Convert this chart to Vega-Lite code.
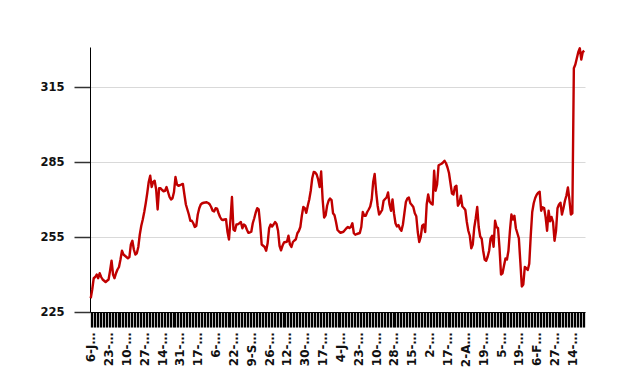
{
"$schema": "https://vega.github.io/schema/vega-lite/v6.json",
"width": 495, "height": 265,
"autosize": {"type": "none"},
"padding": {"left": 90, "top": 47, "right": 33, "bottom": 72},
"config": {"view": {"stroke": null}, "font": "DejaVu Sans"},
"datasets": {"prices": [
{"date":"6-Jan-14","price":230.5},{"date":"7-Jan-14","price":234},{"date":"8-Jan-14","price":238.5},{"date":"9-Jan-14","price":239},{"date":"10-Jan-14","price":240},{"date":"11-Jan-14","price":238.5},{"date":"12-Jan-14","price":240.5},{"date":"13-Jan-14","price":239},{"date":"14-Jan-14","price":238},{"date":"15-Jan-14","price":237.5},{"date":"16-Jan-14","price":237},{"date":"17-Jan-14","price":237.5},
{"date":"23-Jan-14","price":238},{"date":"24-Jan-14","price":241.5},{"date":"25-Jan-14","price":245.5},{"date":"26-Jan-14","price":240},{"date":"27-Jan-14","price":238.5},{"date":"28-Jan-14","price":240.5},{"date":"29-Jan-14","price":242},{"date":"30-Jan-14","price":243},{"date":"31-Jan-14","price":246},{"date":"1-Feb-14","price":249.5},{"date":"2-Feb-14","price":248},{"date":"3-Feb-14","price":247.5},
{"date":"10-Feb-14","price":247},{"date":"11-Feb-14","price":246.5},{"date":"12-Feb-14","price":247},{"date":"13-Feb-14","price":252},{"date":"14-Feb-14","price":253.5},{"date":"15-Feb-14","price":250},{"date":"16-Feb-14","price":248},{"date":"17-Feb-14","price":248.5},{"date":"18-Feb-14","price":251},{"date":"19-Feb-14","price":256},{"date":"20-Feb-14","price":259.5},{"date":"21-Feb-14","price":262},
{"date":"27-Feb-14","price":265},{"date":"28-Feb-14","price":268.5},{"date":"1-Mar-14","price":272.5},{"date":"2-Mar-14","price":277},{"date":"3-Mar-14","price":279.5},{"date":"4-Mar-14","price":275},{"date":"5-Mar-14","price":277},{"date":"6-Mar-14","price":277.5},{"date":"7-Mar-14","price":274},{"date":"8-Mar-14","price":266},{"date":"9-Mar-14","price":274.5},{"date":"10-Mar-14","price":274.5},
{"date":"14-Mar-14","price":273.8},{"date":"15-Mar-14","price":273.3},{"date":"16-Mar-14","price":273.5},{"date":"17-Mar-14","price":275},{"date":"18-Mar-14","price":273},{"date":"19-Mar-14","price":271},{"date":"20-Mar-14","price":270},{"date":"21-Mar-14","price":270.5},{"date":"22-Mar-14","price":273},{"date":"23-Mar-14","price":279},{"date":"24-Mar-14","price":276},{"date":"25-Mar-14","price":275.5},
{"date":"31-Mar-14","price":275.7},{"date":"1-Apr-14","price":276},{"date":"2-Apr-14","price":276.2},{"date":"3-Apr-14","price":272},{"date":"4-Apr-14","price":268},{"date":"5-Apr-14","price":266},{"date":"6-Apr-14","price":264},{"date":"7-Apr-14","price":261.5},{"date":"8-Apr-14","price":261.5},{"date":"9-Apr-14","price":260.5},{"date":"10-Apr-14","price":259},{"date":"11-Apr-14","price":259.5},
{"date":"17-Apr-14","price":264},{"date":"18-Apr-14","price":266.5},{"date":"19-Apr-14","price":268},{"date":"20-Apr-14","price":268.5},{"date":"21-Apr-14","price":268.7},{"date":"22-Apr-14","price":268.8},{"date":"23-Apr-14","price":268.9},{"date":"24-Apr-14","price":268.6},{"date":"25-Apr-14","price":268.1},{"date":"26-Apr-14","price":267},{"date":"27-Apr-14","price":265.5},{"date":"28-Apr-14","price":265.2},
{"date":"6-May-14","price":266.5},{"date":"7-May-14","price":266.3},{"date":"8-May-14","price":264.5},{"date":"9-May-14","price":263},{"date":"10-May-14","price":262},{"date":"11-May-14","price":261.8},{"date":"12-May-14","price":262},{"date":"13-May-14","price":262.1},{"date":"14-May-14","price":257},{"date":"15-May-14","price":254},{"date":"16-May-14","price":262},{"date":"17-May-14","price":271},
{"date":"22-May-14","price":258},{"date":"23-May-14","price":257.5},{"date":"24-May-14","price":260},{"date":"25-May-14","price":260.1},{"date":"26-May-14","price":260.5},{"date":"27-May-14","price":261},{"date":"28-May-14","price":258.5},{"date":"29-May-14","price":260},{"date":"30-May-14","price":259.5},{"date":"31-May-14","price":258},{"date":"1-Jun-14","price":256.7},{"date":"2-Jun-14","price":256.8},
{"date":"9-Sep-14","price":257.1},{"date":"10-Sep-14","price":260.5},{"date":"11-Sep-14","price":262.5},{"date":"12-Sep-14","price":264.8},{"date":"13-Sep-14","price":266.5},{"date":"14-Sep-14","price":266},{"date":"15-Sep-14","price":260},{"date":"16-Sep-14","price":252},{"date":"17-Sep-14","price":251.5},{"date":"18-Sep-14","price":251},{"date":"19-Sep-14","price":249.5},{"date":"20-Sep-14","price":252.5},
{"date":"26-Sep-14","price":258.5},{"date":"27-Sep-14","price":260},{"date":"28-Sep-14","price":259.2},{"date":"29-Sep-14","price":260},{"date":"30-Sep-14","price":261},{"date":"1-Oct-14","price":260.2},{"date":"2-Oct-14","price":257.5},{"date":"3-Oct-14","price":251.5},{"date":"4-Oct-14","price":249.7},{"date":"5-Oct-14","price":251.5},{"date":"6-Oct-14","price":252.8},{"date":"7-Oct-14","price":253},
{"date":"12-Oct-14","price":253.1},{"date":"13-Oct-14","price":255.5},{"date":"14-Oct-14","price":252},{"date":"15-Oct-14","price":251},{"date":"16-Oct-14","price":253},{"date":"17-Oct-14","price":253.6},{"date":"18-Oct-14","price":254.1},{"date":"19-Oct-14","price":256.5},{"date":"20-Oct-14","price":257.4},{"date":"21-Oct-14","price":259},{"date":"22-Oct-14","price":263.5},{"date":"23-Oct-14","price":267},
{"date":"30-Oct-14","price":266.5},{"date":"31-Oct-14","price":264.7},{"date":"1-Nov-14","price":267.5},{"date":"2-Nov-14","price":270},{"date":"3-Nov-14","price":273.5},{"date":"4-Nov-14","price":278.5},{"date":"5-Nov-14","price":281},{"date":"6-Nov-14","price":280.8},{"date":"7-Nov-14","price":280},{"date":"8-Nov-14","price":278},{"date":"9-Nov-14","price":275},{"date":"10-Nov-14","price":281.2},
{"date":"17-Nov-14","price":270},{"date":"18-Nov-14","price":262.8},{"date":"19-Nov-14","price":263.7},{"date":"20-Nov-14","price":267.5},{"date":"21-Nov-14","price":269.5},{"date":"22-Nov-14","price":270.4},{"date":"23-Nov-14","price":269.8},{"date":"24-Nov-14","price":264.5},{"date":"25-Nov-14","price":263.7},{"date":"26-Nov-14","price":261},{"date":"27-Nov-14","price":257.8},{"date":"28-Nov-14","price":257.2},
{"date":"4-Jan-15","price":256.7},{"date":"5-Jan-15","price":256.9},{"date":"6-Jan-15","price":257.1},{"date":"7-Jan-15","price":257.8},{"date":"8-Jan-15","price":258.5},{"date":"9-Jan-15","price":259},{"date":"10-Jan-15","price":258.6},{"date":"11-Jan-15","price":259},{"date":"12-Jan-15","price":260.5},{"date":"13-Jan-15","price":256.5},{"date":"14-Jan-15","price":255.9},{"date":"15-Jan-15","price":256.2},
{"date":"23-Jan-15","price":256.4},{"date":"24-Jan-15","price":256.6},{"date":"25-Jan-15","price":259},{"date":"26-Jan-15","price":265},{"date":"27-Jan-15","price":263.5},{"date":"28-Jan-15","price":263.5},{"date":"29-Jan-15","price":265},{"date":"30-Jan-15","price":266},{"date":"31-Jan-15","price":267.2},{"date":"1-Feb-15","price":270},{"date":"2-Feb-15","price":277},{"date":"3-Feb-15","price":280.2},
{"date":"10-Feb-15","price":273},{"date":"11-Feb-15","price":267.5},{"date":"12-Feb-15","price":264},{"date":"13-Feb-15","price":264.8},{"date":"14-Feb-15","price":265.8},{"date":"15-Feb-15","price":269.5},{"date":"16-Feb-15","price":270.2},{"date":"17-Feb-15","price":270.8},{"date":"18-Feb-15","price":272.8},{"date":"19-Feb-15","price":268},{"date":"20-Feb-15","price":265.5},{"date":"21-Feb-15","price":270},
{"date":"28-Feb-15","price":264.5},{"date":"1-Mar-15","price":260.5},{"date":"2-Mar-15","price":259.2},{"date":"3-Mar-15","price":259.8},{"date":"4-Mar-15","price":258.3},{"date":"5-Mar-15","price":257.5},{"date":"6-Mar-15","price":260},{"date":"7-Mar-15","price":264.5},{"date":"8-Mar-15","price":269},{"date":"9-Mar-15","price":270.4},{"date":"10-Mar-15","price":270.8},{"date":"11-Mar-15","price":268.5},
{"date":"15-Mar-15","price":267.8},{"date":"16-Mar-15","price":267},{"date":"17-Mar-15","price":264.5},{"date":"18-Mar-15","price":263.3},{"date":"19-Mar-15","price":257},{"date":"20-Mar-15","price":253},{"date":"21-Mar-15","price":255},{"date":"22-Mar-15","price":259.5},{"date":"23-Mar-15","price":260},{"date":"24-Mar-15","price":257},{"date":"25-Mar-15","price":268},{"date":"26-Mar-15","price":272},
{"date":"2-May-15","price":269.2},{"date":"3-May-15","price":268.4},{"date":"4-May-15","price":268},{"date":"5-May-15","price":281.5},{"date":"6-May-15","price":273.5},{"date":"7-May-15","price":276},{"date":"8-May-15","price":283.7},{"date":"9-May-15","price":284},{"date":"10-May-15","price":284.3},{"date":"11-May-15","price":284.8},{"date":"12-May-15","price":285.5},{"date":"13-May-15","price":284.5},
{"date":"17-May-15","price":282.8},{"date":"18-May-15","price":280.6},{"date":"19-May-15","price":276.5},{"date":"20-May-15","price":272.4},{"date":"21-May-15","price":272},{"date":"22-May-15","price":275},{"date":"23-May-15","price":275.5},{"date":"24-May-15","price":267.5},{"date":"25-May-15","price":268.5},{"date":"26-May-15","price":271.5},{"date":"27-May-15","price":267.2},{"date":"28-May-15","price":266.6},
{"date":"2-Aug-15","price":265.8},{"date":"3-Aug-15","price":261},{"date":"4-Aug-15","price":257.5},{"date":"5-Aug-15","price":255.5},{"date":"6-Aug-15","price":250.5},{"date":"7-Aug-15","price":252},{"date":"8-Aug-15","price":258.8},{"date":"9-Aug-15","price":262.5},{"date":"10-Aug-15","price":267},{"date":"11-Aug-15","price":259},{"date":"12-Aug-15","price":255.2},{"date":"13-Aug-15","price":254.3},
{"date":"19-Aug-15","price":249.5},{"date":"20-Aug-15","price":246},{"date":"21-Aug-15","price":245.5},{"date":"22-Aug-15","price":247.1},{"date":"23-Aug-15","price":249.5},{"date":"24-Aug-15","price":254.5},{"date":"25-Aug-15","price":255.5},{"date":"26-Aug-15","price":251.1},{"date":"27-Aug-15","price":261.5},{"date":"28-Aug-15","price":259},{"date":"29-Aug-15","price":258.5},{"date":"30-Aug-15","price":250.5},
{"date":"5-Mar-16","price":240},{"date":"6-Mar-16","price":240.5},{"date":"7-Mar-16","price":243.5},{"date":"8-Mar-16","price":246.4},{"date":"9-Mar-16","price":246},{"date":"10-Mar-16","price":249.5},{"date":"11-Mar-16","price":257.5},{"date":"12-Mar-16","price":264},{"date":"13-Mar-16","price":262},{"date":"14-Mar-16","price":263.5},{"date":"15-Mar-16","price":258.5},{"date":"16-Mar-16","price":256.5},
{"date":"19-Mar-16","price":254.5},{"date":"20-Mar-16","price":245},{"date":"21-Mar-16","price":235.2},{"date":"22-Mar-16","price":236},{"date":"23-Mar-16","price":243},{"date":"24-Mar-16","price":242.5},{"date":"25-Mar-16","price":241.8},{"date":"26-Mar-16","price":244.3},{"date":"27-Mar-16","price":255.5},{"date":"28-Mar-16","price":265},{"date":"29-Mar-16","price":268.5},{"date":"30-Mar-16","price":270.6},
{"date":"6-Feb-17","price":271.9},{"date":"7-Feb-17","price":272.7},{"date":"8-Feb-17","price":273.1},{"date":"9-Feb-17","price":265.5},{"date":"10-Feb-17","price":266.9},{"date":"11-Feb-17","price":266.6},{"date":"12-Feb-17","price":263},{"date":"13-Feb-17","price":257.5},{"date":"14-Feb-17","price":265.5},{"date":"15-Feb-17","price":261.3},{"date":"16-Feb-17","price":263},{"date":"17-Feb-17","price":261},
{"date":"27-Feb-17","price":253.5},{"date":"28-Feb-17","price":257.5},{"date":"1-Mar-17","price":266.5},{"date":"2-Mar-17","price":268},{"date":"3-Mar-17","price":268.7},{"date":"4-Mar-17","price":264},{"date":"5-Mar-17","price":266.5},{"date":"6-Mar-17","price":269.5},{"date":"7-Mar-17","price":271.6},{"date":"8-Mar-17","price":274.8},{"date":"9-Mar-17","price":270},{"date":"10-Mar-17","price":264},
{"date":"14-Mar-17","price":264.5},{"date":"15-Mar-17","price":322.5},{"date":"16-Mar-17","price":324},{"date":"17-Mar-17","price":326.5},{"date":"18-Mar-17","price":329},{"date":"19-Mar-17","price":330.5},{"date":"20-Mar-17","price":326},{"date":"21-Mar-17","price":329},{"date":"22-Mar-17","price":329.5}
]},
"data": {"name": "prices"},
"mark": {"type": "line", "color": "#c00000", "strokeWidth": 2.4, "strokeJoin": "round"},
"encoding": {
  "x": {"field": "date", "type": "ordinal", "sort": null,
        "scale": {"type": "point", "padding": 0.5},
        "axis": {"title": null, "labelAngle": -90,
                 "labelExpr": "indexof(pluck(data('prices'), 'date'), datum.value) % 12 === 0 ? datum.label : ''",
                 "labelLimit": 35, "labelFont": "DejaVu Sans", "labelFontWeight": "bold", "labelFontSize": 12,
                 "labelColor": "#111111", "labelPadding": 5, "labelOverlap": false, "labelBound": false,
                 "ticks": true, "tickSize": 15, "tickColor": "#000000", "tickWidth": 1.3,
                 "domainColor": "#000000", "grid": false}},
  "y": {"field": "price", "type": "quantitative",
        "scale": {"domain": [225, 331], "nice": false, "zero": false},
        "axis": {"title": null, "values": [225, 255, 285, 315], "grid": true, "gridColor": "#d9d9d9", "gridWidth": 1.2,
                 "tickSize": 16, "tickColor": "#333333", "tickWidth": 1.5, "domainColor": "#000000",
                 "labelPadding": 10, "labelFont": "DejaVu Sans", "labelFontWeight": "bold", "labelFontSize": 11.5,
                 "labelColor": "#111111"}}
}
}
